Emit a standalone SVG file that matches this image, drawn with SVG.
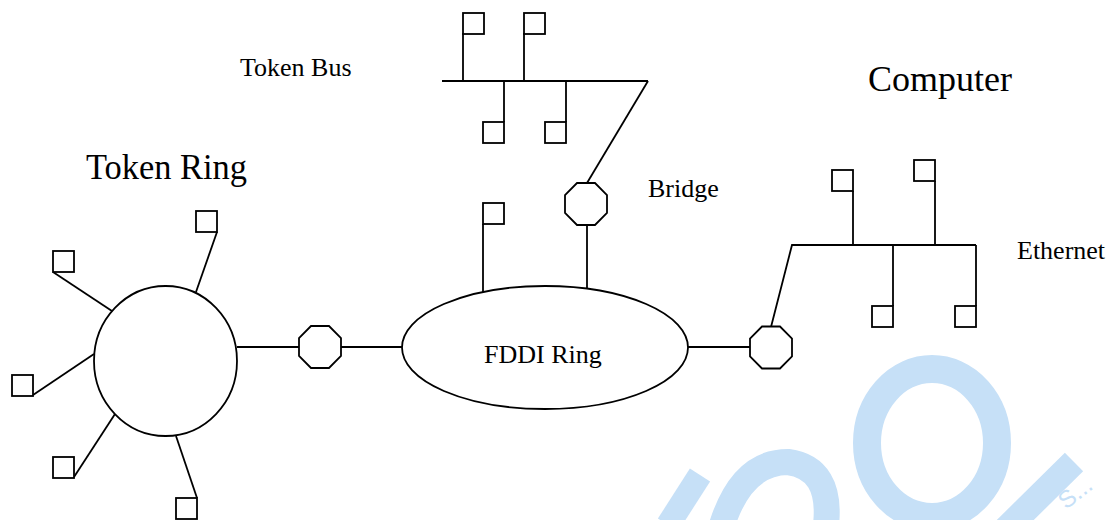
<svg xmlns="http://www.w3.org/2000/svg" xmlns:xlink="http://www.w3.org/1999/xlink" width="1114" height="520" viewBox="0 0 1114 520">
<style>
.ln{stroke:#000;stroke-width:1.8;fill:none;stroke-linecap:butt}
.sq{stroke:#000;stroke-width:1.8;fill:#fff}
.shape{stroke:#000;stroke-width:1.8;fill:#fff}
.t{font-family:"Liberation Serif","Times New Roman",serif;font-size:26px;fill:#000}
.tb{font-family:"Liberation Serif","Times New Roman",serif;font-size:35px;fill:#000}
.wm{fill:none;stroke:#c6e0f7}
</style>
<defs>
<polygon id="oct" points="-9,-21 9,-21 21,-9 21,9 9,21 -9,21 -21,9 -21,-9"/>
<rect id="box" width="21" height="21"/>
</defs>
<rect width="1114" height="520" fill="#fff"/>
<g id="watermark">
<ellipse class="wm" cx="932" cy="443" rx="65" ry="74" stroke-width="28"/>
<line class="wm" x1="1074" y1="462" x2="995" y2="540" stroke-width="26"/>
<path class="wm" d="M722,525 Q742,462 788,462 Q832,468 826,525" stroke-width="26"/>
<line class="wm" x1="668" y1="525" x2="700" y2="475" stroke-width="24"/>
<text x="1066" y="510" transform="rotate(-38 1066 510)" style="font-family:'Liberation Sans',Arial,sans-serif;font-size:24px;fill:#c6e0f7">S...</text>
</g>
<g id="connectors">
<line class="ln" x1="217" y1="232" x2="196" y2="292"/>
<line class="ln" x1="53" y1="272" x2="115" y2="313"/>
<line class="ln" x1="33" y1="395" x2="94" y2="354"/>
<line class="ln" x1="74" y1="477" x2="115" y2="414"/>
<line class="ln" x1="176" y1="436" x2="197" y2="498"/>
<line class="ln" x1="237" y1="347" x2="299" y2="347"/>
<line class="ln" x1="341" y1="347" x2="402" y2="347"/>
<line class="ln" x1="688" y1="347" x2="750" y2="347"/>
<line class="ln" x1="483" y1="224" x2="483" y2="292"/>
<line class="ln" x1="587" y1="225" x2="587" y2="289"/>
<line class="ln" x1="442" y1="81" x2="648" y2="81"/>
<line class="ln" x1="648" y1="81" x2="587" y2="183"/>
<line class="ln" x1="463" y1="33" x2="463" y2="81"/>
<line class="ln" x1="524" y1="33" x2="524" y2="81"/>
<line class="ln" x1="504" y1="81" x2="504" y2="122"/>
<line class="ln" x1="566" y1="81" x2="566" y2="122"/>
<polyline class="ln" points="771,327 792,245 976,245"/>
<line class="ln" x1="853" y1="191" x2="853" y2="245"/>
<line class="ln" x1="935" y1="181" x2="935" y2="245"/>
<line class="ln" x1="893" y1="245" x2="893" y2="306"/>
<line class="ln" x1="976" y1="245" x2="976" y2="306"/>
</g>
<g id="token-ring">
<ellipse class="shape" cx="165.5" cy="361" rx="71.5" ry="75"/>
<text class="tb" x="86" y="179" textLength="161" lengthAdjust="spacingAndGlyphs">Token Ring</text>
</g>
<g id="tr-computer-1"><use href="#box" class="sq" x="196" y="211"/></g>
<g id="tr-computer-2"><use href="#box" class="sq" x="53" y="251"/></g>
<g id="tr-computer-3"><use href="#box" class="sq" x="12" y="375"/></g>
<g id="tr-computer-4"><use href="#box" class="sq" x="53" y="457"/></g>
<g id="tr-computer-5"><use href="#box" class="sq" x="176" y="498"/></g>
<g id="bridge-left"><use href="#oct" class="shape" x="320" y="347"/></g>
<g id="fddi-ring">
<ellipse class="shape" cx="545" cy="347.5" rx="143" ry="61.5"/>
<text class="t" x="484" y="363">FDDI Ring</text>
</g>
<g id="fddi-computer"><use href="#box" class="sq" x="483" y="203"/></g>
<g id="bridge-top"><use href="#oct" class="shape" x="586" y="204"/></g>
<g id="bridge-right"><use href="#oct" class="shape" x="771" y="347.5"/></g>
<g id="token-bus">
<text class="t" x="240" y="76">Token Bus</text>
</g>
<g id="tb-computer-1"><use href="#box" class="sq" x="463" y="13"/></g>
<g id="tb-computer-2"><use href="#box" class="sq" x="524" y="13"/></g>
<g id="tb-computer-3"><use href="#box" class="sq" x="483" y="122"/></g>
<g id="tb-computer-4"><use href="#box" class="sq" x="545" y="122"/></g>
<g id="bridge-label"><text class="t" x="648" y="197">Bridge</text></g>
<g id="ethernet">
<text class="t" x="1017" y="259">Ethernet</text>
</g>
<g id="computer-label"><text class="tb" x="868" y="91" textLength="144" lengthAdjust="spacingAndGlyphs">Computer</text></g>
<g id="eth-computer-1"><use href="#box" class="sq" x="832" y="170"/></g>
<g id="eth-computer-2"><use href="#box" class="sq" x="914" y="160"/></g>
<g id="eth-computer-3"><use href="#box" class="sq" x="872" y="306"/></g>
<g id="eth-computer-4"><use href="#box" class="sq" x="955" y="306"/></g>
</svg>
